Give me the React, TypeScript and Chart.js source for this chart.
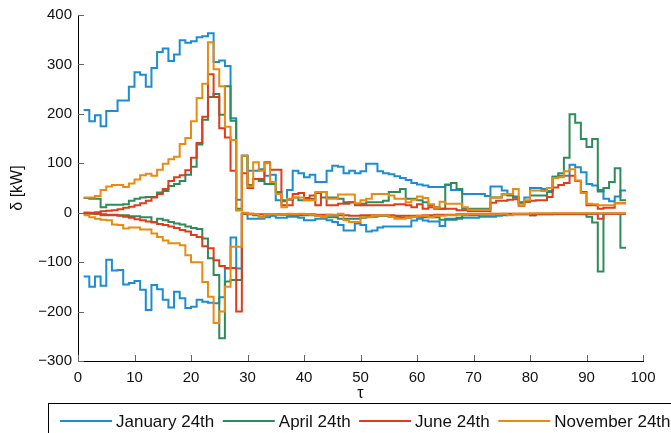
import React, { useEffect, useRef } from "react";
import { Chart, registerables } from "chart.js";

Chart.register(...registerables);

const TAU = [
  1, 2, 3, 4, 5, 6, 7, 8, 9, 10, 11, 12, 13, 14, 15, 16, 17, 18, 19, 20,
  21, 22, 23, 24, 25, 26, 27, 28, 29, 30, 31, 32, 33, 34, 35, 36, 37, 38, 39, 40,
  41, 42, 43, 44, 45, 46, 47, 48, 49, 50, 51, 52, 53, 54, 55, 56, 57, 58, 59, 60,
  61, 62, 63, 64, 65, 66, 67, 68, 69, 70, 71, 72, 73, 74, 75, 76, 77, 78, 79, 80,
  81, 82, 83, 84, 85, 86, 87, 88, 89, 90, 91, 92, 93, 94, 95, 96, 97,
];

const JAN_UPPER = [
  208, 185, 197, 175, 206, 206, 227, 227, 255, 284,
  279, 255, 293, 325, 332, 307, 320, 349, 344, 347,
  355, 357, 363, 305, 308, 297, 191, 26,
  115, 85, 85, 88, 75, 77, 25, 23, 46, 85, 80, 72,
  77, 62, 62, 85, 95, 93, 80, 85, 80, 84, 99, 99,
  84, 80, 78, 74, 70, 66, 60, 57, 55, 52, 52, 52,
  56, 46, 46, 38, 38, 38, 38, 34, 53, 53, 45, 38,
  33, 21, 31, 50, 50, 48, 44, 73, 75, 75, 97, 92,
  82, 58, 55, 46, 28, 23, 33, 45, 45,
];
const JAN_LOWER = [
  -129, -150, -129, -148, -95, -117, -116, -145, -142, -138,
  -156, -197, -146, -155, -176, -192, -160, -173, -193, -190,
  -176, -180, -182, -183, -171, -113, -50, -113,
  -2, -12, -12, -12, -9, -6, -10, -10, -8, -8, -10, -15,
  -15, -12, -12, -15, -19, -25, -36, -36, -22, -25, -38, -36,
  -30, -28, -28, -28, -28, -28, -16, -12, -16, -18, -18, -27,
  -12, -12, -12, -10, -10, -10, -8, -8, -8, -6, -5, -4,
  -3, -3, -3, -5, -3, -3, -3, -2, -2, -2, -2, -2,
  -2, -2, -2, -2, -2, -2, -2, -2, -2,
];
const APR_UPPER = [
  30, 28, 28, 11, 16, 16, 16, 17, 24, 28,
  31, 32, 32, 41, 44, 54, 58, 64, 77, 93,
  138, 188, 234, 240, 198, 256, 186, 8,
  115, 56, 68, 64, 58, 58, 42, 25, 26, 31, 25, 25,
  28, 40, 31, 31, 31, 28, 21, 21, 15, 18, 21, 21,
  21, 24, 42, 42, 48, 28, 28, 25, 21, 15, 11, 8,
  57, 60, 48, 8, 8, 8, 8, 8, 31, 31, 37, 35,
  31, 20, 22, 35, 35, 35, 42, 73, 80, 111, 199, 182,
  149, 133, 149, 43, 50, 62, 90, 25, 25,
];
const APR_LOWER = [
  -2, -2, -2, -5, -5, -5, -5, -5, -7, -7,
  -9, -9, -19, -12, -15, -19, -22, -24, -28, -31,
  -33, -52, -92, -126, -254, -139, -136, -136,
  -1, -3, -5, -8, -5, -5, -4, -4, -4, -5, -5, -5,
  -5, -6, -9, -9, -9, -12, -12, -12, -12, -10, -8, -8,
  -6, -6, -8, -8, -10, -10, -8, -8, -9, -9, -9, -14,
  -14, -14, -10, -5, -5, -5, -4, -4, -4, -4, -3, -3,
  -3, -3, -3, -3, -3, -3, -3, -3, -3, -3, -3, -3,
  -3, -8, -20, -119, -2, -2, -2, -71, -71,
];
const JUN_UPPER = [
  0, 0, 1, 3, 4, 5, 7, 10, 12, 15,
  19, 24, 31, 38, 48, 64, 72, 76, 86, 111,
  141, 194, 280, 234, 171, 152, 85, 5,
  80, 50, 68, 68, 102, 87, 87, 15, 15, 38, 40, 30,
  35, 15, 42, 15, 15, 18, 18, 21, 18, 15, 15, 15,
  15, 15, 15, 17, 17, 15, 11, 17, 8, 11, 8, 8,
  8, 8, 5, 5, 3, 3, 3, 3, 20, 24, 24, 26,
  27, 14, 22, 24, 25, 25, 32, 51, 56, 60, 75, 64,
  42, 15, 15, 8, 10, 10, 19, 19, 19,
];
const JUN_LOWER = [
  0, -1, -2, -3, -4, -4, -6, -8, -10, -13,
  -15, -18, -20, -23, -25, -28, -31, -35, -38, -45,
  -49, -68, -72, -96, -108, -112, -112, -200,
  -2, -2, -3, -3, -3, -3, -3, -3, -3, -3, -3, -3,
  -3, -4, -4, -4, -5, -5, -5, -6, -6, -5, -5, -5,
  -5, -5, -5, -6, -6, -6, -6, -6, -5, -5, -4, -4,
  -4, -4, -3, -3, -3, -3, -3, -3, -2, -2, -2, -2,
  -2, -2, -2, -5, -2, -2, -2, -2, -2, -2, -2, -2,
  -2, -2, -2, -12, -2, -2, -2, -2, -2,
];
const NOV_UPPER = [
  31, 31, 34, 46, 53, 56, 56, 52, 59, 67,
  76, 79, 75, 87, 99, 108, 113, 139, 151, 185,
  232, 261, 345, 290, 256, 174, 147, 5,
  115, 53, 102, 85, 100, 62, 38, 11, 28, 31, 31, 25,
  25, 42, 42, 28, 28, 37, 37, 37, 19, 25, 28, 38,
  38, 38, 35, 28, 28, 21, 26, 33, 30, 17, 10, 22,
  18, 18, 18, 11, 6, 6, 6, 6, 31, 31, 38, 38,
  48, 15, 25, 45, 45, 44, 50, 70, 72, 84, 88, 65,
  40, 18, 17, 15, 15, 15, 19, 19, 19,
];
const NOV_LOWER = [
  -5, -9, -12, -14, -15, -24, -25, -32, -30, -30,
  -34, -34, -42, -49, -56, -62, -62, -66, -86, -100,
  -100, -140, -170, -223, -200, -150, -69, -69,
  0, -2, -3, -9, -4, -3, -4, -3, -2, -3, -2, -3,
  -4, -6, -9, -4, -4, -2, -15, -19, -19, -9, -9, -6,
  -5, -5, -8, -12, -12, -10, -8, -6, -6, -9, -6, -6,
  -5, -5, -4, -4, -3, -3, -3, -3, -3, -3, -2, -5,
  -2, -2, -2, -1, -1, -1, -1, -1, -1, -1, -1, -1,
  -1, -1, -1, -1, -1, -1, -1, -1, -1,
];

const SERIES_NAMES = ["January 24th", "April 24th", "June 24th", "November 24th"];
const SERIES_COLORS = ["#1a8dd4", "#2e8b5a", "#e03c1c", "#ec8a10"];
const SERIES_UPPER = [JAN_UPPER, APR_UPPER, JUN_UPPER, NOV_UPPER];
const SERIES_LOWER = [JAN_LOWER, APR_LOWER, JUN_LOWER, NOV_LOWER];

const X_TICKS = [0, 10, 20, 30, 40, 50, 60, 70, 80, 90, 100];
const Y_TICKS = [-300, -200, -100, 0, 100, 200, 300, 400];

const FONT = '"Liberation Sans", Arial, Helvetica, sans-serif';

const overlayPlugin = {
  id: "overlay",
  afterDraw(chart: any) {
    const ctx = chart.ctx;
    const xs = chart.scales.x;
    const ys = chart.scales.y;
    const area = chart.chartArea;
    ctx.save();
    // inward tick marks
    ctx.strokeStyle = "#666";
    ctx.lineWidth = 1;
    for (const v of Y_TICKS) {
      const y = Math.round(ys.getPixelForValue(v)) + 0.5;
      ctx.beginPath();
      ctx.moveTo(area.left, y);
      ctx.lineTo(area.left + 6, y);
      ctx.stroke();
    }
    for (const v of X_TICKS) {
      const x = Math.round(xs.getPixelForValue(v)) + 0.5;
      ctx.beginPath();
      ctx.moveTo(x, area.bottom);
      ctx.lineTo(x, area.bottom - 6);
      ctx.stroke();
    }
    // axis titles
    ctx.fillStyle = "#111";
    ctx.font = `16px ${FONT}`;
    ctx.textAlign = "center";
    ctx.textBaseline = "middle";
    ctx.fillText("τ", (area.left + area.right) / 2, 394);
    ctx.save();
    ctx.translate(18, (area.top + area.bottom) / 2);
    ctx.rotate(-Math.PI / 2);
    ctx.fillText("δ [kW]", 0, 0);
    ctx.restore();
    // legend
    ctx.strokeStyle = "#000";
    ctx.lineWidth = 1;
    ctx.strokeRect(48.5, 403.5, 700, 60);
    ctx.font = `17px ${FONT}`;
    ctx.textAlign = "left";
    let x = 60;
    const ly = 421;
    SERIES_NAMES.forEach((name, i) => {
      ctx.strokeStyle = SERIES_COLORS[i];
      ctx.lineWidth = 2;
      ctx.beginPath();
      ctx.moveTo(x, ly);
      ctx.lineTo(x + 52, ly);
      ctx.stroke();
      ctx.fillStyle = "#111";
      ctx.fillText(name, x + 56, ly + 1);
      x += 56 + ctx.measureText(name).width + 8.5;
    });
    ctx.restore();
  },
};

export default function App() {
  const ref = useRef<HTMLCanvasElement | null>(null);

  useEffect(() => {
    if (!ref.current) return;
    const datasets: any[] = [];
    SERIES_NAMES.forEach((name, i) => {
      [SERIES_UPPER[i], SERIES_LOWER[i]].forEach((vals, k) => {
        datasets.push({
          label: k === 0 ? name : name + " (lower)",
          data: TAU.map((t, j) => ({ x: t, y: vals[j] })),
          borderColor: SERIES_COLORS[i],
          borderWidth: 2,
          pointRadius: 0,
          stepped: "before",
          fill: false,
          order: 3 - i,
        });
      });
    });
    const chart = new Chart(ref.current, {
      type: "line",
      data: { datasets },
      options: {
        responsive: false,
        animation: false,
        layout: { padding: { left: 0, right: 28, top: 14, bottom: 0 } },
        plugins: { legend: { display: false }, tooltip: { enabled: false } },
        scales: {
          x: {
            type: "linear",
            min: 0,
            max: 100,
            afterFit: (s: any) => {
              s.height = 72;
            },
            afterBuildTicks: (s: any) => {
              s.ticks = X_TICKS.map((v) => ({ value: v }));
            },
            ticks: {
              color: "#111",
              font: { family: FONT, size: 15 },
              padding: 8,
              maxRotation: 0,
              autoSkip: false,
            },
            grid: { display: false, drawTicks: false },
            border: { display: true, color: "#000", width: 1 },
          },
          y: {
            type: "linear",
            min: -300,
            max: 400,
            afterFit: (s: any) => {
              s.width = 78;
            },
            afterBuildTicks: (s: any) => {
              s.ticks = Y_TICKS.map((v) => ({ value: v }));
            },
            ticks: {
              color: "#111",
              font: { family: FONT, size: 15 },
              padding: 6,
              callback: (v: any) => (Number(v) < 0 ? "\u2212" + Math.abs(Number(v)) : String(v)),
            },
            grid: { display: false, drawTicks: false },
            border: { display: true, color: "#000", width: 1 },
          },
        },
      },
      plugins: [overlayPlugin],
    });
    return () => chart.destroy();
  }, []);

  return (
    <div style={{ position: "absolute", left: 0, top: 0, width: 671, height: 433, background: "#fff" }}>
      <canvas ref={ref} width={671} height={433} style={{ display: "block" }} />
    </div>
  );
}
